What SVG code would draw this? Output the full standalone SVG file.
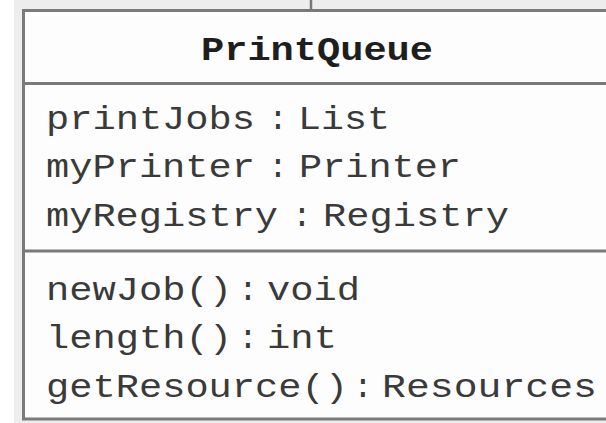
<svg xmlns="http://www.w3.org/2000/svg" width="606" height="423" viewBox="0 0 606 423">
<style>
.bd{stroke:#7a7a7a;stroke-width:3}
.t{font-family:"Liberation Mono","Courier New",monospace;font-size:33px;fill:#3a3a3a}
.b{font-weight:bold;fill:#1e1e1e}
</style>
<rect x="0" y="0" width="606" height="423" fill="#ffffff"/>
<rect x="14" y="0" width="592" height="423" fill="#ededed"/>
<g id="connectors">
<line x1="311" y1="0" x2="311" y2="10" stroke="#777" stroke-width="2.5"/>
</g>
<g id="PrintQueue">
<rect x="23.5" y="10.5" width="600" height="408.5" class="bd" style="fill:#fdfdfd"/>
<line x1="23.5" y1="83.5" x2="606" y2="83.5" class="bd"/>
<line x1="23.5" y1="251" x2="606" y2="251" class="bd"/>
<text class="t b" x="201" y="60" textLength="232" lengthAdjust="spacingAndGlyphs">PrintQueue</text>
<text class="t" x="46" y="129" textLength="209" lengthAdjust="spacingAndGlyphs">printJobs</text>
<text class="t" x="278" y="129" text-anchor="middle">:</text>
<text class="t" x="298" y="129" textLength="92" lengthAdjust="spacingAndGlyphs">List</text>
<text class="t" x="46" y="177" textLength="209" lengthAdjust="spacingAndGlyphs">myPrinter</text>
<text class="t" x="278" y="177" text-anchor="middle">:</text>
<text class="t" x="299" y="177" textLength="162" lengthAdjust="spacingAndGlyphs">Printer</text>
<text class="t" x="46" y="226" textLength="232" lengthAdjust="spacingAndGlyphs">myRegistry</text>
<text class="t" x="302" y="226" text-anchor="middle">:</text>
<text class="t" x="323" y="226" textLength="186" lengthAdjust="spacingAndGlyphs">Registry</text>
<text class="t" x="46" y="300" textLength="186" lengthAdjust="spacingAndGlyphs">newJob()</text>
<text class="t" x="248" y="300" text-anchor="middle">:</text>
<text class="t" x="267" y="300" textLength="93" lengthAdjust="spacingAndGlyphs">void</text>
<text class="t" x="46" y="348" textLength="186" lengthAdjust="spacingAndGlyphs">length()</text>
<text class="t" x="248" y="348" text-anchor="middle">:</text>
<text class="t" x="267" y="348" textLength="70" lengthAdjust="spacingAndGlyphs">int</text>
<text class="t" x="46" y="397" textLength="302" lengthAdjust="spacingAndGlyphs">getResource()</text>
<text class="t" x="363" y="397" text-anchor="middle">:</text>
<text class="t" x="382" y="397" textLength="215" lengthAdjust="spacingAndGlyphs">Resources</text>
</g>
</svg>
